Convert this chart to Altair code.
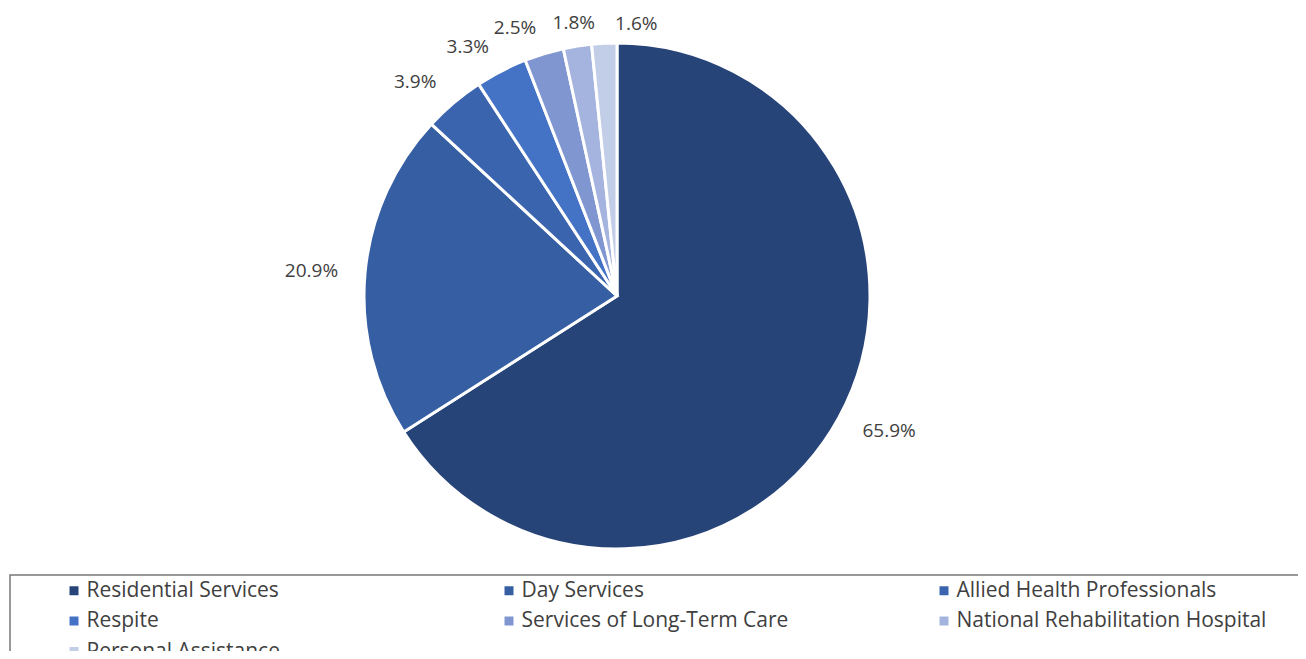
import altair as alt
import pandas as pd

categories = ["Residential Services", "Day Services", "Allied Health Professionals",
              "Respite", "Services of Long-Term Care", "National Rehabilitation Hospital",
              "Personal Assistance"]
shares = [65.9, 20.9, 3.9, 3.3, 2.5, 1.8, 1.6]
labels = ["65.9%", "20.9%", "3.9%", "3.3%", "2.5%", "1.8%", "1.6%"]
colors = ["#264478", "#355EA3", "#3B64AF", "#4472C4", "#7F96D0", "#A5B4DE", "#C2CDE8"]

right_side = ["Residential Services"]
left_side = ["Day Services", "Allied Health Professionals", "Respite", "Services of Long-Term Care"]
top_center = ["National Rehabilitation Hospital"]
top_right = ["Personal Assistance"]

df = pd.DataFrame({"category": categories, "share": shares, "label": labels,
                   "order": list(range(len(categories)))})

CX, CY = 609, 288
FONT = "Open Sans"

base = alt.Chart(df).transform_window(
    cum="sum(share)", sort=[alt.SortField("order")], frame=[None, 0]
).transform_joinaggregate(
    total="sum(share)"
).transform_calculate(
    t0="(datum.cum - datum.share) / datum.total * 2 * PI",
    t1="datum.cum / datum.total * 2 * PI",
    mid="(datum.cum - datum.share / 2) / datum.total * 2 * PI",
)

pie = base.mark_arc(radius=253, stroke="white", strokeWidth=3, x=CX, y=CY).encode(
    theta=alt.Theta("t0:Q", scale=None),
    theta2="t1:Q",
    color=alt.Color(
        "category:N", sort=categories,
        scale=alt.Scale(domain=categories, range=colors),
        legend=alt.Legend(
            orient="none", legendX=55.5, legendY=572, direction="horizontal",
            columns=3, title=None, symbolType="square", symbolSize=81,
            symbolStrokeWidth=0, labelFont=FONT, labelFontSize=21,
            labelColor="#404040", rowPadding=8.5, columnPadding=102,
            gridAlign="all", labelOffset=2, padding=0, labelLimit=400,
        ),
    ),
)

def label_layer(cats, align, radius=280, dx=0, dy=0):
    return base.transform_filter(
        alt.FieldOneOfPredicate(field="category", oneOf=cats)
    ).mark_text(
        radius=radius, x=CX, y=CY, align=align, baseline="middle",
        font=FONT, fontSize=19, color="#404040", dx=dx, dy=dy,
    ).encode(
        theta=alt.Theta("mid:Q", scale=None),
        text="label:N",
    )

box = alt.Chart(pd.DataFrame({"a": [0]})).mark_rect(
    fill="transparent", stroke="#777777", strokeWidth=1.5
).encode(
    x=alt.value(2), x2=alt.value(1320), y=alt.value(567), y2=alt.value(720)
)

chart = alt.layer(
    box, pie,
    label_layer(right_side, "left"),
    label_layer(left_side, "right"),
    label_layer(top_center, "center", radius=276),
    label_layer(top_right, "left", radius=276, dx=12, dy=4),
).properties(
    width=1290, height=643, padding=0,
    autosize=alt.AutoSizeParams(type="none"),
).configure_view(stroke=None)

chart.save("out.html", embed_options={"renderer": "svg", "actions": False})
